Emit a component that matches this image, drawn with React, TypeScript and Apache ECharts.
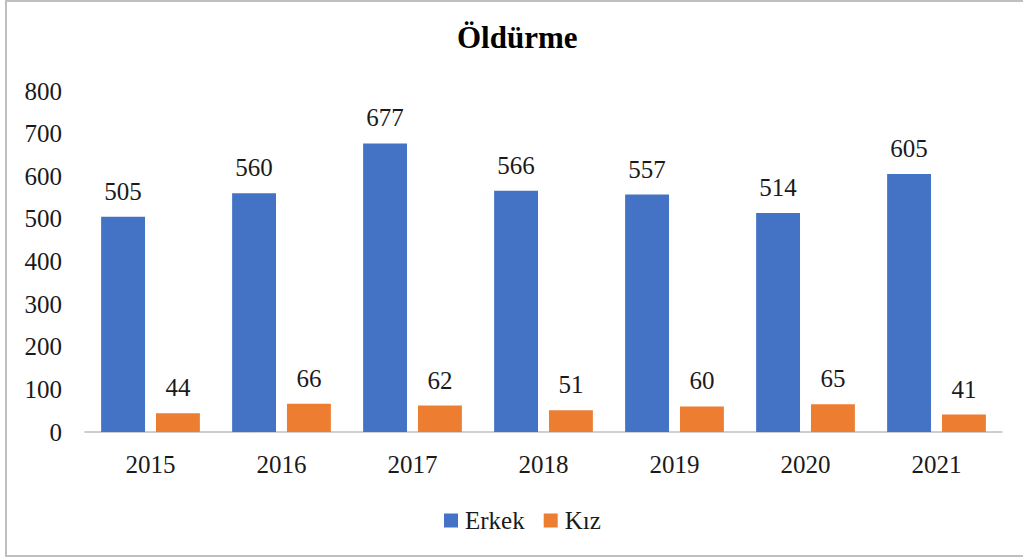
import React, { useEffect, useRef } from "react";
import * as echarts from "echarts";

const title = "Öldürme";
const years = ["2015", "2016", "2017", "2018", "2019", "2020", "2021"];
const erkek = [505, 560, 677, 566, 557, 514, 605];
const kiz = [44, 66, 62, 51, 60, 65, 41];
const seriesNames = ["Erkek", "Kız"];
const colors = ["#4472C4", "#ED7D31"];

const FONT = "Liberation Serif";
const FS = 25;

export default function App() {
  const ref = useRef<HTMLDivElement>(null);
  useEffect(() => {
    if (!ref.current) return;
    const chart = echarts.init(ref.current, undefined, { renderer: "svg" });
    const label = {
      show: true,
      position: "top" as const,
      distance: 13,
      color: "#1a1a1a",
      fontFamily: FONT,
      fontSize: FS,
    };
    chart.setOption({
      animation: false,
      backgroundColor: "#ffffff",
      textStyle: { fontFamily: FONT },
      title: {
        text: title,
        left: 452,
        top: 17,
        textStyle: { fontFamily: FONT, fontSize: 31, fontWeight: "bold", color: "#000" },
      },
      graphic: [
        {
          type: "rect",
          shape: { x: 6, y: 1, width: 1030, height: 555 },
          style: { fill: "none", stroke: "#BFBFBF", lineWidth: 2 },
          silent: true,
        },
      ],
      legend: {
        top: 503,
        left: 439,
        itemWidth: 14,
        itemHeight: 14,
        itemGap: 19,
        icon: "rect",
        textStyle: { fontFamily: FONT, fontSize: FS, color: "#1a1a1a", padding: [0, 0, 0, 2] },
        data: seriesNames,
      },
      grid: { left: 85, right: 21, top: 91, bottom: 125, containLabel: false },
      xAxis: {
        type: "category",
        data: years,
        axisLine: { show: true, lineStyle: { color: "#BFBFBF", width: 1.5 } },
        axisTick: { show: false },
        axisLabel: { fontFamily: FONT, fontSize: FS, color: "#1a1a1a", margin: 20 },
      },
      yAxis: {
        type: "value",
        min: 0,
        max: 800,
        interval: 100,
        axisLine: { show: false },
        axisTick: { show: false },
        splitLine: { show: false },
        axisLabel: { fontFamily: FONT, fontSize: FS, color: "#1a1a1a", margin: 23 },
      },
      series: [
        {
          name: seriesNames[0],
          type: "bar",
          data: erkek,
          itemStyle: { color: colors[0] },
          barWidth: "33.5%",
          barGap: "25%",
          label,
        },
        {
          name: seriesNames[1],
          type: "bar",
          data: kiz,
          itemStyle: { color: colors[1] },
          barWidth: "33.5%",
          barGap: "25%",
          label,
        },
      ],
    });
    return () => chart.dispose();
  }, []);
  return (
    <div
      ref={ref}
      style={{ position: "absolute", left: 0, top: 0, width: 1023, height: 557 }}
    />
  );
}
